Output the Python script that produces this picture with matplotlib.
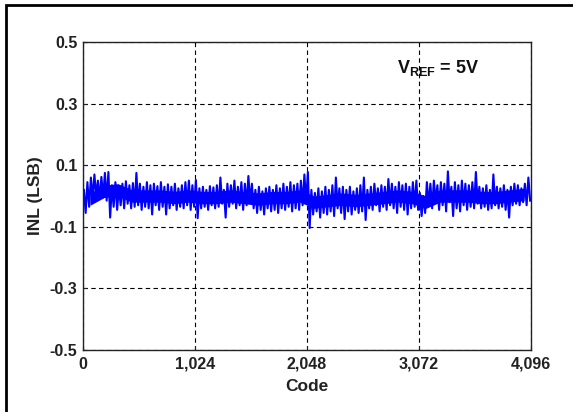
import matplotlib.pyplot as plt
import matplotlib.patches as patches

plt.rcParams['font.family'] = ['Liberation Sans', 'DejaVu Sans']
plt.rcParams['font.weight'] = 'bold'
plt.rcParams['mathtext.fontset'] = 'custom'
plt.rcParams['mathtext.bf'] = 'Liberation Sans:bold'
plt.rcParams['mathtext.rm'] = 'Liberation Sans:bold'

# INL trace: per 32-code bin, upper and lower excursion (LSB)
bin_width = 32
inl_hi = [0.020, 0.045, 0.060, 0.070, 0.050, 0.062, 0.075, 0.078, 0.035, 0.045, 0.030, 0.040, 0.048, 0.035, 0.042, 0.075,
          0.040, 0.030, 0.045, 0.035, 0.040, 0.032, 0.045, 0.030, 0.038, 0.030, 0.040, 0.025, 0.035, 0.045, 0.050, 0.035,
          0.052, 0.025, 0.030, 0.020, 0.032, 0.028, 0.035, 0.060, 0.020, 0.040, 0.035, 0.050, 0.030, 0.045, 0.040, 0.065,
          0.040, 0.020, 0.030, 0.015, 0.025, 0.030, 0.020, 0.035, 0.025, 0.040, 0.030, 0.045, 0.035, 0.040, 0.050, 0.070,
          0.078, 0.020, 0.010, 0.025, 0.015, 0.030, 0.020, 0.035, 0.060, 0.025, 0.030, 0.020, 0.030, 0.015, 0.025, 0.035,
          0.060, 0.020, 0.030, 0.040, 0.025, 0.035, 0.030, 0.055, 0.040, 0.030, 0.045, 0.035, 0.040, 0.030, 0.045, 0.050,
          0.010, 0.000, 0.045, 0.040, 0.050, 0.035, 0.045, 0.040, 0.080, 0.030, 0.045, 0.035, 0.050, 0.040, 0.035, 0.045,
          0.078, 0.030, 0.025, 0.035, 0.020, 0.070, 0.030, 0.025, 0.035, 0.020, 0.030, 0.040, 0.035, 0.025, 0.040, 0.060]
inl_lo = [-0.055, -0.035, -0.010, 0.000, -0.010, -0.005, -0.015, -0.070, -0.035, -0.045, -0.030, -0.040, -0.025, -0.040, -0.035, -0.030,
          -0.045, -0.035, -0.040, -0.060, -0.030, -0.045, -0.035, -0.060, -0.040, -0.030, -0.045, -0.035, -0.040, -0.030, -0.045, -0.035,
          -0.072, -0.040, -0.035, -0.045, -0.030, -0.040, -0.035, -0.025, -0.070, -0.035, -0.025, -0.040, -0.030, -0.045, -0.030, -0.020,
          -0.040, -0.055, -0.045, -0.060, -0.040, -0.050, -0.045, -0.055, -0.040, -0.045, -0.035, -0.050, -0.040, -0.045, -0.030, -0.020,
          -0.104, -0.060, -0.050, -0.070, -0.055, -0.060, -0.050, -0.065, -0.040, -0.055, -0.075, -0.050, -0.060, -0.045, -0.055, -0.050,
          -0.078, -0.040, -0.045, -0.030, -0.050, -0.035, -0.045, -0.030, -0.040, -0.055, -0.035, -0.045, -0.060, -0.040, -0.035, -0.045,
          -0.065, -0.055, -0.030, -0.040, -0.020, -0.045, -0.030, -0.050, -0.020, -0.065, -0.040, -0.050, -0.030, -0.045, -0.035, -0.040,
          -0.025, -0.040, -0.035, -0.045, -0.040, -0.030, -0.040, -0.035, -0.045, -0.070, -0.030, -0.025, -0.030, -0.020, -0.030, -0.015]

# solid core of the band, per 128-code block (LSB)
core_width = 128
core_hi = [0.010, 0.035, 0.040, 0.020, 0.020, 0.020, 0.015, 0.020, 0.015, 0.015, 0.020, 0.015, 0.010, 0.015, 0.015, 0.020,
           0.000, 0.005, 0.010, 0.005, 0.010, 0.015, 0.020, 0.015, 0.000, 0.020, 0.020, 0.020, 0.015, 0.015, 0.020, 0.025]
core_lo = [-0.030, -0.005, 0.000, -0.020, -0.020, -0.020, -0.025, -0.020, -0.025, -0.025, -0.020, -0.025, -0.030, -0.025, -0.025, -0.020,
           -0.040, -0.035, -0.030, -0.035, -0.030, -0.025, -0.020, -0.025, -0.040, -0.020, -0.020, -0.020, -0.025, -0.025, -0.020, -0.015]

x_ticks = [0, 1024, 2048, 3072, 4096]
x_labels = ["0", "1,024", "2,048", "3,072", "4,096"]
y_ticks = [-0.5, -0.3, -0.1, 0.1, 0.3, 0.5]

codes = []
vals = []
for i in range(len(inl_hi)):
    codes += [i * bin_width + 8, i * bin_width + 24]
    vals += [inl_hi[i], inl_lo[i]]
core_x = [i * core_width + core_width / 2 for i in range(len(core_hi))]

fig = plt.figure(figsize=(5.73, 4.12), dpi=100)
ax = fig.add_axes([0.1449, 0.1505, 0.7818, 0.7475])

blue = "#0000ff"
ax.fill_between(core_x, core_lo, core_hi, color=blue, linewidth=0)
ax.plot(codes, vals, color=blue, linewidth=1.5)

ax.set_xlim(0, 4096)
ax.set_ylim(-0.5, 0.5)
ax.set_xticks(x_ticks)
ax.set_xticklabels(x_labels)
ax.set_yticks(y_ticks)
ax.set_yticklabels(["%.1f" % v for v in y_ticks])
ax.tick_params(direction="in", length=3, labelsize=11.5, colors="#222222")
ax.tick_params(axis="x", pad=5)
ax.tick_params(axis="y", pad=4)
ax.grid(True, color="black", linestyle=(0, (4, 3)), linewidth=0.8)
for s in ax.spines.values():
    s.set_linewidth(1.0)
    s.set_color("#222222")

ax.set_xlabel("Code", fontsize=12.5, fontweight="bold", labelpad=5, color="#222222")
ax.set_ylabel("INL (LSB)", fontsize=12.5, fontweight="bold", labelpad=5, color="#222222")

ax.text(3250, 0.415, r"$\mathbf{V_{REF}}$ = 5V", fontsize=13, fontweight="bold",
        ha="center", va="center", color="#111111")

# outer border of the figure
fig.patches.append(patches.Rectangle((6 / 573, -0.01), 1 - 6 / 573 + 0.01, 1 - 5 / 412 + 0.01,
                                     transform=fig.transFigure, fill=False,
                                     edgecolor="black", linewidth=2))

fig.savefig("out.png", dpi=100)
